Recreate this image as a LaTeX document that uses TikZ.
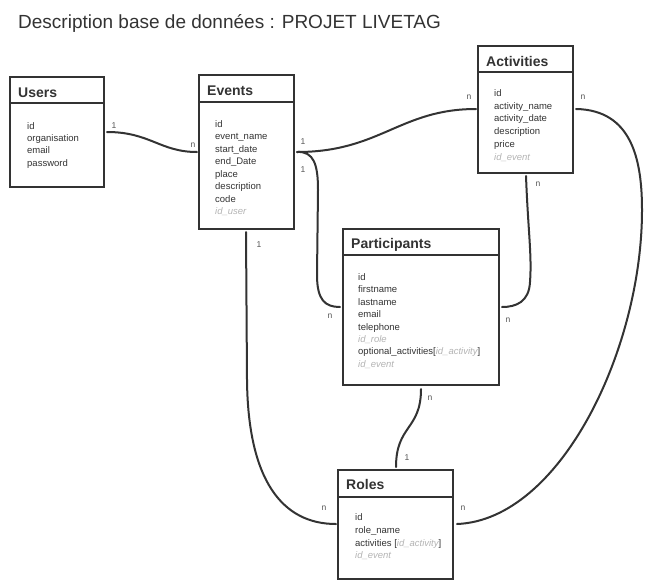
\documentclass[tikz,border=0pt]{standalone}
\usepackage{fontspec}
\setmainfont{Liberation Sans}
\definecolor{ink}{HTML}{333333}
\definecolor{fk}{HTML}{B4B4B4}
\definecolor{lbl}{HTML}{555555}
\begin{document}
\begin{tikzpicture}[x=1pt,y=-1pt,
  tbl/.style={draw=ink,line width=2pt,rectangle,inner sep=0pt,fill=white},
  hdr/.style={anchor=base west,inner sep=0pt,font=\fontsize{14}{16}\selectfont\bfseries,text=ink},
  fld/.style={anchor=base west,inner sep=0pt,font=\fontsize{9.5}{11}\selectfont,text=ink},
  fkf/.style={fld,text=fk,font=\fontsize{9.5}{11}\selectfont\itshape},
  card/.style={inner sep=0pt,font=\fontsize{8.5}{10}\selectfont,text=lbl},
  rel/.style={draw=ink,line width=2pt,line cap=round}]
\useasboundingbox (0,0) rectangle (650,584);
% title
\node[anchor=base west,inner sep=0pt,font=\fontsize{19}{22}\selectfont,text=ink] (title) at (18,28) {Description base de données : PROJET LIVETAG};

% tables
\node[tbl,minimum width=94pt,minimum height=110pt] (users) at (57,132) {};
\draw[ink,line width=2pt] (10,103) -- (104,103);
\node[tbl,minimum width=95pt,minimum height=154pt] (events) at (246.5,152) {};
\draw[ink,line width=2pt] (199,102) -- (294,102);
\node[tbl,minimum width=95pt,minimum height=127pt] (acts) at (525.5,109.5) {};
\draw[ink,line width=2pt] (478,72) -- (573,72);
\node[tbl,minimum width=156pt,minimum height=156pt] (parts) at (421,307) {};
\draw[ink,line width=2pt] (343,255) -- (499,255);
\node[tbl,minimum width=115pt,minimum height=109pt] (roles) at (395.5,524.5) {};
\draw[ink,line width=2pt] (338,497) -- (453,497);

% headers
\node[hdr] (usersh) at (18,97) {Users};
\node[hdr] (eventsh) at (207,95) {Events};
\node[hdr] (actsh) at (486,66) {Activities};
\node[hdr] (partsh) at (351,248) {Participants};
\node[hdr] (rolesh) at (346,489) {Roles};

% Users fields
\node[fld] (u1) at (27,129) {id};
\node[fld] (u2) at (27,141.3) {organisation};
\node[fld] (u3) at (27,153.6) {email};
\node[fld] (u4) at (27,166) {password};

% Events fields
\node[fld] (e1) at (215,127) {id};
\node[fld] (e2) at (215,139.5) {event\_name};
\node[fld] (e3) at (215,152) {start\_date};
\node[fld] (e4) at (215,164.5) {end\_Date};
\node[fld] (e5) at (215,177) {place};
\node[fld] (e6) at (215,189.5) {description};
\node[fld] (e7) at (215,202) {code};
\node[fkf] (e8) at (215,214.5) {id\_user};

% Activities fields
\node[fld] (a1) at (494,96.5) {id};
\node[fld] (a2) at (494,109.2) {activity\_name};
\node[fld] (a3) at (494,121.9) {activity\_date};
\node[fld] (a4) at (494,134.6) {description};
\node[fld] (a5) at (494,147.3) {price};
\node[fkf] (a6) at (494,160) {id\_event};

% Participants fields
\node[fld] (p1) at (358,280.5) {id};
\node[fld] (p2) at (358,292.9) {firstname};
\node[fld] (p3) at (358,305.3) {lastname};
\node[fld] (p4) at (358,317.7) {email};
\node[fld] (p5) at (358,330.1) {telephone};
\node[fkf] (p6) at (358,342.5) {id\_role};
\node[fld] (p7) at (358,354.9) {optional\_activities[{\color{fk}\itshape id\_activity}]};
\node[fkf] (p8) at (358,367.3) {id\_event};

% Roles fields
\node[fld] (r1) at (355,520.5) {id};
\node[fld] (r2) at (355,533.5) {role\_name};
\node[fld] (r3) at (355,546.3) {activities [{\color{fk}\itshape id\_activity}]};
\node[fkf] (r4) at (355,558.8) {id\_event};

% connector end points
\coordinate (cu) at (107,132);
\coordinate (ce1) at (197,152);
\coordinate (ce2) at (297,152);
\coordinate (ca1) at (476,109);
\coordinate (cp1) at (340,307);
\coordinate (ca2) at (526,176);
\coordinate (cp2) at (502,307);
\coordinate (ca3) at (576,109);
\coordinate (cr1) at (457,524);
\coordinate (ce3) at (246,232);
\coordinate (cr2) at (336,524);
\coordinate (cp3) at (421,389);
\coordinate (cr3) at (396,467);

% connectors
\draw[rel] (cu) .. controls (150,132) and (160,152) .. (ce1);
\draw[rel] (ce2) .. controls (380,152) and (400,109) .. (ca1);
\draw[rel] (ce2) .. controls (314,151) and (318,165) .. (318,190) -- (317,275) .. controls (317,300) and (325,307) .. (cp1);
\draw[rel] (ca2) .. controls (528,230) and (532,255) .. (530,282) .. controls (529,302) and (516,307) .. (cp2);
\draw[rel] (ca3) .. controls (632,110) and (642,160) .. (642,210) .. controls (642,350) and (560,520) .. (cr1);
\draw[rel] (ce3) -- (247,380) .. controls (248,480) and (282,524) .. (cr2);
\draw[rel] (cp3) .. controls (421,430) and (396,425) .. (cr3);

% cardinalities
\node[card] (l1) at (114,126) {1};
\node[card] (l2) at (193,145) {n};
\node[card] (l3) at (303,142) {1};
\node[card] (l4) at (469,97) {n};
\node[card] (l5) at (303,170) {1};
\node[card] (l6) at (330,316) {n};
\node[card] (l7) at (538,184) {n};
\node[card] (l8) at (508,320) {n};
\node[card] (l9) at (583,97) {n};
\node[card] (l10) at (463,508) {n};
\node[card] (l11) at (259,245) {1};
\node[card] (l12) at (324,508) {n};
\node[card] (l13) at (430,398) {n};
\node[card] (l14) at (407,458) {1};
\end{tikzpicture}
\end{document}
